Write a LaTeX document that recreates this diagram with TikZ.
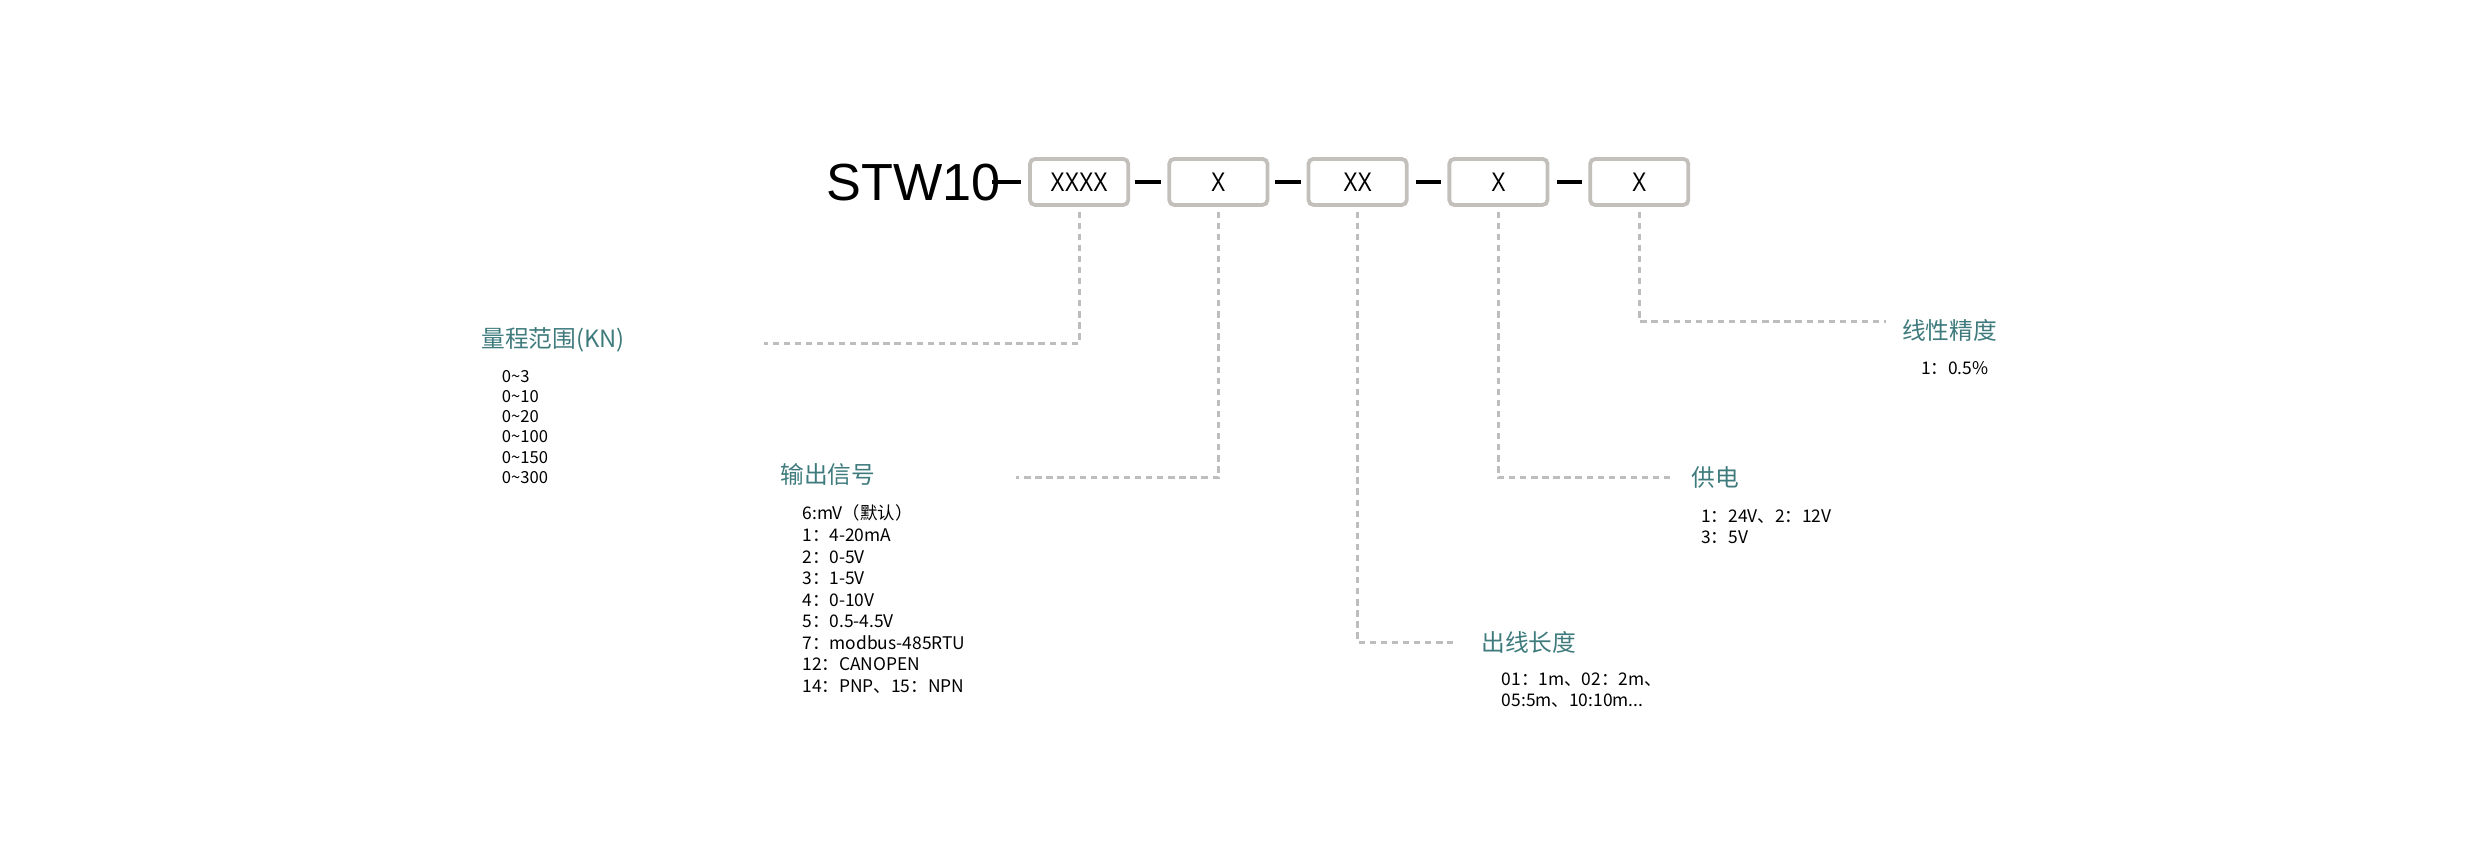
\documentclass[tikz,border=0pt]{standalone}
\usepackage{fontspec}
\setmainfont{Noto Sans CJK SC}
\newfontfamily\arialf{Liberation Sans}
\begin{document}
\begin{tikzpicture}[x=1pt,y=-1pt,
  cbox/.style={draw=boxgray,line width=2.4pt,rounded corners=3pt,minimum width=62pt,minimum height=29pt,inner sep=0pt,font=\arialf\fontsize{17}{17}\selectfont\addfontfeature{FakeStretch=0.8}},
  dsh/.style={line width=2.6pt,black},
  conn/.style={draw=linegray,line width=2pt,dash pattern=on 4pt off 3pt},
  ttl/.style={anchor=west,text=teal2,font=\fontsize{15}{15}\selectfont,inner sep=0pt},
  lst/.style={anchor=north west,align=left,inner sep=0pt}]
\definecolor{boxgray}{HTML}{C3C0BB}
\definecolor{linegray}{HTML}{BDBDBD}
\definecolor{teal2}{HTML}{3F7B7D}
\useasboundingbox (0,0) rectangle (1568,543);
\node[anchor=base west,inner sep=0pt,font=\arialf\fontsize{33}{33}\selectfont] (stw) at (522,127) {STW10};
\node[cbox] (b1) at (682,115) {XXXX};
\node[cbox] (b2) at (770,115) {X};
\node[cbox] (b3) at (858,115) {XX};
\node[cbox] (b4) at (947,115) {X};
\node[cbox] (b5) at (1036,115) {X};
\draw[dsh] (627,115) -- (645,115);
\draw[dsh] (717,115) -- (734,115);
\draw[dsh] (806,115) -- (822,115);
\draw[dsh] (895,115) -- (911,115);
\draw[dsh] (984,115) -- (1000,115);
\coordinate (c1) at (483,217);
\coordinate (c2) at (642,302);
\coordinate (c3) at (918,406);
\coordinate (c4) at (1056,302);
\coordinate (c5) at (1192,203);
\draw[conn] ([yshift=-3pt]b1.south) |- (c1);
\draw[conn] ([yshift=-3pt]b2.south) |- (c2);
\draw[conn] ([yshift=-3pt]b3.south) |- (c3);
\draw[conn] ([yshift=-3pt]b4.south) |- (c4);
\draw[conn] ([yshift=-3pt]b5.south) |- (c5);
\node[ttl] (t1) at (304,215) {量程范围(KN)};
\node[ttl] (t2) at (493,300) {输出信号};
\node[ttl] (t3) at (936,406) {出线长度};
\node[ttl] (t4) at (1069,302) {供电};
\node[ttl] (t5) at (1202,209) {线性精度};
\node[lst,font=\fontsize{10.5}{12.7}\selectfont] (l1) at (317,234) {0\textasciitilde3\\0\textasciitilde10\\0\textasciitilde20\\0\textasciitilde100\\0\textasciitilde150\\0\textasciitilde300};
\node[lst,font=\fontsize{11}{13.6}\selectfont] (l2) at (507,319) {6:mV（默认）\\1：4-20mA\\2：0-5V\\3：1-5V\\4：0-10V\\5：0.5-4.5V\\7：modbus-485RTU\\12：CANOPEN\\14：PNP、15：NPN};
\node[lst,font=\fontsize{11}{13.5}\selectfont] (l3) at (949,425) {01：1m、02：2m、\\05:5m、10:10m...};
\node[lst,font=\fontsize{11}{13.5}\selectfont] (l4) at (1075,322) {1：24V、2：12V\\3：5V};
\node[lst,font=\fontsize{11}{13.5}\selectfont] (l5) at (1214,228) {1：0.5\%};
\end{tikzpicture}
\end{document}
